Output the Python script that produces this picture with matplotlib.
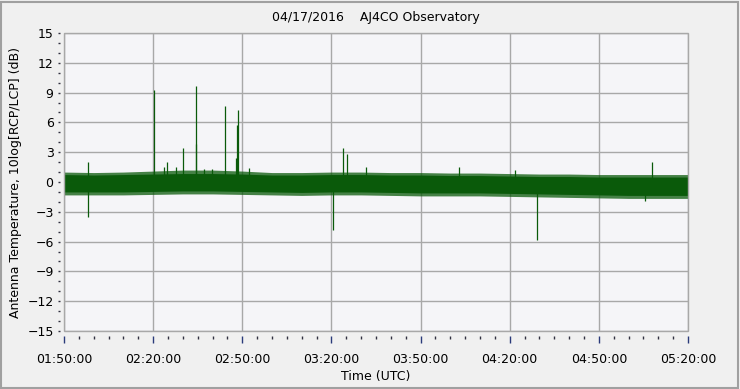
import matplotlib
matplotlib.use("Agg")
import matplotlib.pyplot as plt
from matplotlib.ticker import FixedLocator, MultipleLocator
from matplotlib.patches import Rectangle

# ---- data (minutes after 00:00 UTC) ----
title = "04/17/2016    AJ4CO Observatory"
xlabel = "Time (UTC)"
ylabel = "Antenna Temperature, 10log[RCP/LCP] (dB)"
tick_minutes = [110, 140, 170, 200, 230, 260, 290, 320]
tick_labels = ["01:50:00", "02:20:00", "02:50:00", "03:20:00",
               "03:50:00", "04:20:00", "04:50:00", "05:20:00"]

# noise band envelope read every 10 minutes (dense core)
band_t = [110, 120, 130, 140, 150, 160, 170, 180, 190, 200, 210, 220,
          230, 240, 250, 260, 270, 280, 290, 300, 310, 320]
band_hi = [0.75, 0.7, 0.75, 0.8, 0.85, 0.85, 0.8, 0.7, 0.7, 0.75, 0.75, 0.7,
           0.7, 0.65, 0.65, 0.6, 0.55, 0.55, 0.5, 0.5, 0.5, 0.5]
band_lo = [-1.0, -1.0, -1.0, -0.95, -0.9, -0.9, -0.95, -1.0, -1.05, -1.0, -1.0, -1.05,
           -1.1, -1.1, -1.1, -1.15, -1.2, -1.25, -1.3, -1.35, -1.35, -1.35]
# outer, sparser fringe of the noise
fringe_hi = [1.0, 0.95, 1.0, 1.1, 1.2, 1.2, 1.1, 0.95, 0.95, 1.0, 1.0, 0.95,
             0.95, 0.9, 0.9, 0.85, 0.8, 0.8, 0.75, 0.75, 0.75, 0.75]
fringe_lo = [-1.3, -1.3, -1.3, -1.25, -1.2, -1.2, -1.25, -1.3, -1.35, -1.3, -1.3, -1.35,
             -1.4, -1.4, -1.4, -1.45, -1.5, -1.55, -1.6, -1.65, -1.65, -1.65]

# individual spikes (time, peak value)
spike_t = [118.2, 118.2, 140.4, 143.8, 144.8, 147.6, 150.2, 154.5, 154.5, 157.2,
           159.7, 164.3, 167.8, 168.2, 168.7, 172.3, 200.6, 204.0, 205.4, 211.6,
           242.9, 261.8, 269.3, 305.6, 307.9]
spike_v = [2.0, -3.5, 9.3, 1.5, 2.0, 1.5, 3.45, 9.7, 3.8, 1.3,
           1.3, 7.7, 2.4, 5.7, 7.25, 1.4, -4.8, 3.45, 2.8, 1.5,
           1.5, 1.2, -5.8, -1.9, 2.0]

green = "#0a5a0a"
gridc = "#a8a8a8"

fig = plt.figure(figsize=(7.4, 3.89), dpi=100, facecolor="#f0f0f0")
ax = fig.add_axes([64/740, 1-331/389, 624/740, 298/389])
ax.set_facecolor("#f5f5f8")

ax.fill_between(band_t, fringe_lo, fringe_hi, color=green, alpha=0.75, lw=0, zorder=3)
ax.fill_between(band_t, band_lo, band_hi, color=green, lw=0, zorder=3)
ax.vlines(spike_t, 0, spike_v, color=green, lw=0.9, zorder=3)

ax.set_xlim(110, 320)
ax.set_ylim(-15, 15)
ax.xaxis.set_major_locator(FixedLocator(tick_minutes))
ax.set_xticklabels(tick_labels)
ax.xaxis.set_minor_locator(MultipleLocator(5))
ax.yaxis.set_major_locator(MultipleLocator(3))
ax.yaxis.set_minor_locator(MultipleLocator(1))

ax.grid(True, which="major", color=gridc, lw=1.0, zorder=1)
ax.set_axisbelow(True)

for s in ax.spines.values():
    s.set_visible(False)
ax.spines["bottom"].set_position(("outward", 3.6))
ax.spines["left"].set_position(("outward", 3.0))
ax.add_patch(Rectangle((0, 0), 1, 1, transform=ax.transAxes, fill=False,
                       edgecolor=gridc, lw=1.0, zorder=4, clip_on=False))

ax.tick_params(axis="x", which="major", direction="out", length=5, width=1,
               color="#2a3a7a", pad=7, labelsize=9, labelcolor="#000000")
ax.tick_params(axis="x", which="minor", direction="out", length=2.5, width=1,
               color="#303040")
ax.tick_params(axis="y", which="major", direction="out", length=1.5, width=1,
               color="#303040", pad=3, labelsize=9)
ax.tick_params(axis="y", which="minor", direction="out", length=1.5, width=1,
               color="#303040")

ax.set_title(title, fontsize=9, pad=9)
ax.set_xlabel(xlabel, fontsize=9, labelpad=3)
ax.set_ylabel(ylabel, fontsize=9, labelpad=4)

fig.patches.append(Rectangle((0.002, 0.002), 0.995, 0.994, transform=fig.transFigure,
                             fill=False, edgecolor="#a0a0a0", lw=1.5))

fig.savefig("out.png", dpi=100, facecolor=fig.get_facecolor())
